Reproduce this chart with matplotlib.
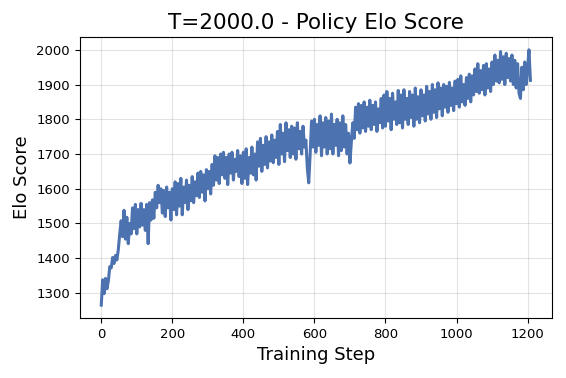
import numpy as np
import matplotlib
matplotlib.use("Agg")
import matplotlib.pyplot as plt

# Elo score, one value every 4 training steps
steps = np.arange(0, 1209, 4)
elo = [
    1265, 1338, 1298, 1342, 1312, 1335, 1376, 1372, 1402, 1385,
    1408, 1395, 1425, 1470, 1508, 1462, 1538, 1455, 1518, 1442,
    1500, 1470, 1545, 1485, 1555, 1470, 1540, 1490, 1558, 1495,
    1540, 1480, 1555, 1442, 1560, 1510, 1568, 1515, 1590, 1545,
    1610, 1560, 1600, 1530, 1595, 1520, 1605, 1545, 1590, 1510,
    1600, 1540, 1620, 1525, 1615, 1550, 1630, 1525, 1605, 1560,
    1625, 1540, 1610, 1565, 1635, 1560, 1620, 1580, 1645, 1575,
    1650, 1590, 1640, 1565, 1655, 1600, 1650, 1585, 1670, 1610,
    1695, 1625, 1690, 1615, 1700, 1640, 1705, 1630, 1690, 1612,
    1700, 1645, 1705, 1625, 1685, 1650, 1710, 1635, 1695, 1615,
    1705, 1630, 1715, 1612, 1690, 1645, 1720, 1640, 1700, 1625,
    1735, 1665, 1745, 1650, 1725, 1670, 1750, 1660, 1735, 1680,
    1755, 1675, 1740, 1690, 1765, 1670, 1785, 1700, 1760, 1678,
    1790, 1710, 1770, 1690, 1780, 1700, 1775, 1685, 1790, 1715,
    1765, 1700, 1780, 1720, 1740, 1660, 1617, 1700, 1795, 1720,
    1800, 1705, 1785, 1725, 1810, 1695, 1790, 1720, 1805, 1700,
    1795, 1715, 1815, 1700, 1785, 1725, 1800, 1695, 1790, 1710,
    1810, 1720, 1785, 1700, 1760, 1674, 1735, 1790, 1745, 1835,
    1770, 1845, 1760, 1840, 1775, 1850, 1765, 1835, 1780, 1855,
    1770, 1840, 1785, 1850, 1765, 1830, 1790, 1860, 1775, 1870,
    1780, 1880, 1795, 1860, 1770, 1875, 1800, 1850, 1785, 1883,
    1790, 1870, 1775, 1885, 1800, 1860, 1785, 1880, 1805, 1870,
    1780, 1890, 1800, 1865, 1790, 1885, 1810, 1870, 1795, 1895,
    1815, 1880, 1800, 1900, 1820, 1885, 1805, 1905, 1830, 1890,
    1810, 1900, 1835, 1895, 1820, 1906, 1840, 1890, 1825, 1910,
    1845, 1915, 1835, 1925, 1850, 1900, 1840, 1920, 1860, 1930,
    1850, 1925, 1870, 1945, 1880, 1960, 1875, 1940, 1885, 1955,
    1870, 1960, 1890, 1945, 1880, 1965, 1900, 1985, 1910, 1970,
    1905, 1995, 1915, 1980, 1900, 1990, 1920, 1975, 1910, 1985,
    1900, 1970, 1890, 1960, 1875, 1860, 1950, 1885, 1965, 1900,
    1945, 2000, 1912,
]

fig = plt.figure(figsize=(5.66, 3.78), dpi=100)
ax = fig.add_axes([0.141, 0.159, 0.834, 0.743])
ax.plot(steps, elo, color="#4C72B0", linewidth=2.2)

ax.set_title("T=2000.0 - Policy Elo Score", fontsize=15.5)
ax.set_xlabel("Training Step", fontsize=13)
ax.set_ylabel("Elo Score", fontsize=13)
ax.set_xticks(range(0, 1201, 200))
ax.set_yticks(range(1300, 2001, 100))
ax.tick_params(labelsize=9.5)
ax.grid(True, color="#b0b0b0", alpha=0.35, linewidth=0.8)

fig.savefig("out.png", dpi=100)
